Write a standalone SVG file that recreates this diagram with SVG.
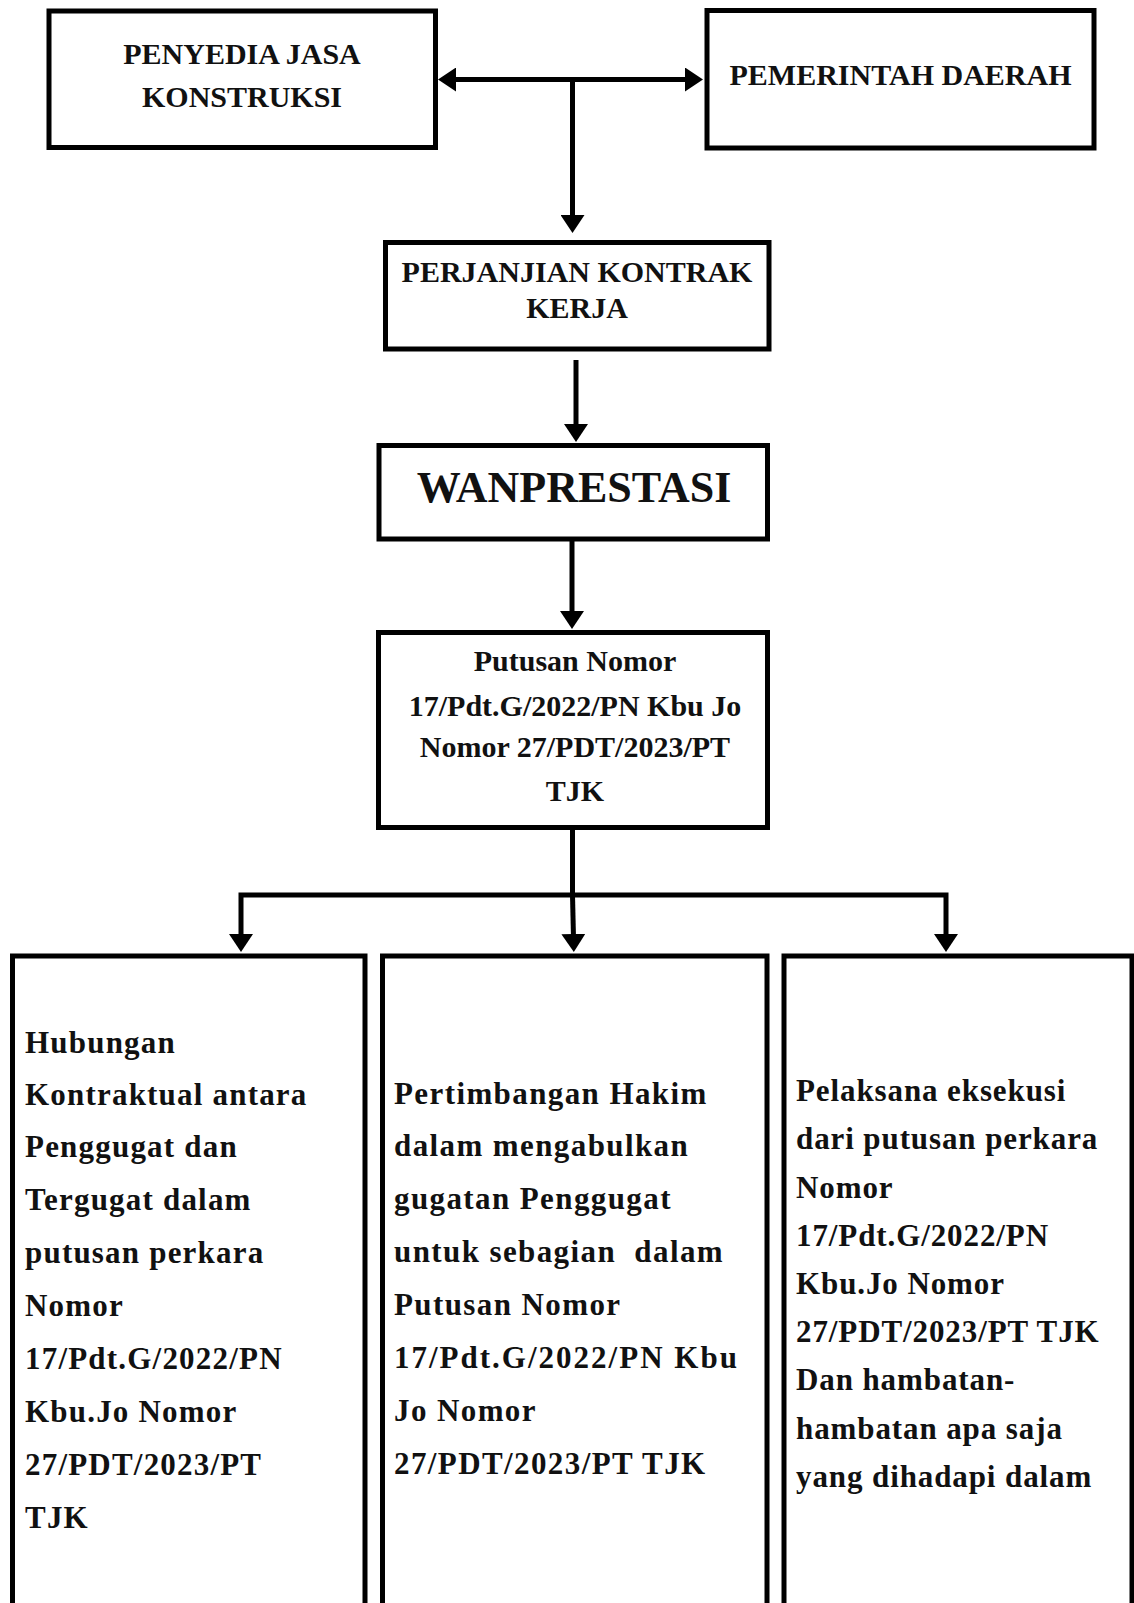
<svg xmlns="http://www.w3.org/2000/svg" width="1134" height="1603" viewBox="0 0 1134 1603">
<style>
.box{fill:#fff;stroke:#000;stroke-width:5}
.t{font-family:"Liberation Serif","Times New Roman",serif;font-weight:bold;fill:#111;font-size:30px;text-anchor:middle}
.b{font-family:"Liberation Serif","Times New Roman",serif;font-weight:bold;fill:#111;font-size:31px;letter-spacing:1.2px;white-space:pre}
.c{fill:none;stroke:#000;stroke-width:5;stroke-linejoin:miter}
</style>
<defs>
<marker id="ah" viewBox="0 0 18 24" refX="4" refY="12" markerWidth="18" markerHeight="24" markerUnits="userSpaceOnUse" orient="auto-start-reverse">
<path d="M0,0 L18,12 L0,24 z" fill="#000"/>
</marker>
</defs>
<rect width="1134" height="1603" fill="#fff"/>
<g id="connectors">
<path class="c" d="M452,79.5 H689" marker-start="url(#ah)" marker-end="url(#ah)"/>
<path class="c" d="M572.5,79.5 V219" marker-end="url(#ah)"/>
<path class="c" d="M576,360 V428" marker-end="url(#ah)"/>
<path class="c" d="M572,541 V615" marker-end="url(#ah)"/>
<path class="c" d="M572.5,830 V895"/>
<path class="c" d="M572.5,895 H241 V938" marker-end="url(#ah)"/>
<path class="c" d="M572.5,895 L573.5,938" marker-end="url(#ah)"/>
<path class="c" d="M572.5,895 H946 V938" marker-end="url(#ah)"/>
</g>
<g id="penyedia">
<rect class="box" x="49" y="11" width="386.5" height="136.5"/>
<text class="t" x="242" y="63.5">PENYEDIA JASA</text>
<text class="t" x="242" y="107">KONSTRUKSI</text>
</g>
<g id="pemerintah">
<rect class="box" x="707" y="10.5" width="387" height="137.5"/>
<text class="t" x="900.5" y="85">PEMERINTAH DAERAH</text>
</g>
<g id="perjanjian">
<rect class="box" x="385.5" y="242.5" width="383.5" height="106.5"/>
<text class="t" x="577" y="282">PERJANJIAN KONTRAK</text>
<text class="t" x="577" y="318">KERJA</text>
</g>
<g id="wanprestasi">
<rect class="box" x="379" y="445.5" width="388.5" height="93.5"/>
<text class="t" x="574" y="502" style="font-size:44px">WANPRESTASI</text>
</g>
<g id="putusan">
<rect class="box" x="378.5" y="632.5" width="389" height="195"/>
<text class="t" x="575" y="670.5">Putusan Nomor</text>
<text class="t" x="575" y="716">17/Pdt.G/2022/PN Kbu Jo</text>
<text class="t" x="575" y="757">Nomor 27/PDT/2023/PT</text>
<text class="t" x="575" y="800.5">TJK</text>
</g>
<g id="hubungan">
<rect class="box" x="12.5" y="956" width="352.5" height="700"/>
<text class="b" x="25">
<tspan x="25" y="1053">Hubungan</tspan>
<tspan x="25" y="1105">Kontraktual antara</tspan>
<tspan x="25" y="1157">Penggugat dan</tspan>
<tspan x="25" y="1210">Tergugat dalam</tspan>
<tspan x="25" y="1263">putusan perkara</tspan>
<tspan x="25" y="1316">Nomor</tspan>
<tspan x="25" y="1369">17/Pdt.G/2022/PN</tspan>
<tspan x="25" y="1422">Kbu.Jo Nomor</tspan>
<tspan x="25" y="1475">27/PDT/2023/PT</tspan>
<tspan x="25" y="1528">TJK</tspan>
</text>
</g>
<g id="pertimbangan">
<rect class="box" x="382.5" y="956" width="384.5" height="700"/>
<text class="b" x="394" style="letter-spacing:1.4px">
<tspan x="394" y="1104">Pertimbangan Hakim</tspan>
<tspan x="394" y="1156">dalam mengabulkan</tspan>
<tspan x="394" y="1209">gugatan Penggugat</tspan>
<tspan x="394" y="1262">untuk sebagian  dalam</tspan>
<tspan x="394" y="1315">Putusan Nomor</tspan>
<tspan x="394" y="1368" style="letter-spacing:2px">17/Pdt.G/2022/PN Kbu</tspan>
<tspan x="394" y="1421">Jo Nomor</tspan>
<tspan x="394" y="1474">27/PDT/2023/PT TJK</tspan>
</text>
</g>
<g id="pelaksana">
<rect class="box" x="784" y="956" width="348" height="700"/>
<text class="b" x="796" style="letter-spacing:0.9px">
<tspan x="796" y="1101">Pelaksana eksekusi</tspan>
<tspan x="796" y="1149">dari putusan perkara</tspan>
<tspan x="796" y="1197.5">Nomor</tspan>
<tspan x="796" y="1245.5">17/Pdt.G/2022/PN</tspan>
<tspan x="796" y="1294">Kbu.Jo Nomor</tspan>
<tspan x="796" y="1342">27/PDT/2023/PT TJK</tspan>
<tspan x="796" y="1390">Dan hambatan-</tspan>
<tspan x="796" y="1438.5">hambatan apa saja</tspan>
<tspan x="796" y="1487">yang dihadapi dalam</tspan>
</text>
</g>
</svg>
